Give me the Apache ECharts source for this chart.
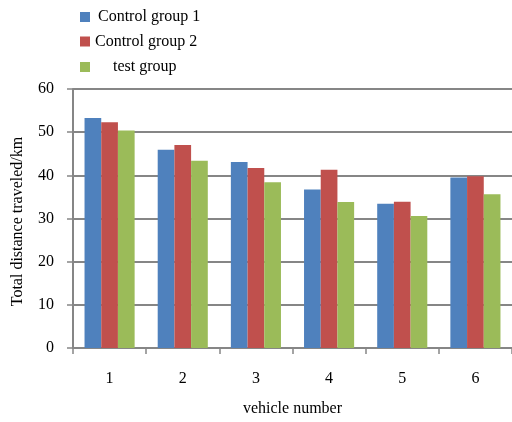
<!DOCTYPE html>
<html>
<head>
<meta charset="utf-8">
<script src="https://cdn.jsdelivr.net/npm/echarts@6/dist/echarts.min.js"></script>
<style>
html,body{margin:0;padding:0;background:#fff;}
#chart{width:512px;height:422px;}
</style>
</head>
<body>
<div id="chart"></div>
<script>
// Total distance traveled per vehicle, by group
const vehicles = ['1', '2', '3', '4', '5', '6'];
const control1 = [53.3, 45.9, 43.1, 36.7, 33.4, 39.5];
const control2 = [52.3, 47.0, 41.7, 41.3, 33.9, 39.8];
const testGroup = [50.4, 43.4, 38.4, 33.8, 30.6, 35.6];
const yTicks = [0, 10, 20, 30, 40, 50, 60];

const FONT = '"Liberation Serif", "Times New Roman", serif';
const seriesNames = ['Control group 1', 'Control group 2', 'test group'];
const colors = ['#4F81BD', '#C0504D', '#9BBB59'];
const legendTop = [9, 33.5, 59];
const legendTextPad = [3, 0, 18];

const chart = echarts.init(document.getElementById('chart'));
chart.setOption({
  animation: false,
  textStyle: {fontFamily: FONT},
  legend: seriesNames.map((n, i) => ({
    data: [n],
    left: 80,
    top: legendTop[i],
    icon: 'rect',
    itemWidth: 10,
    itemHeight: 10,
    itemGap: 0,
    padding: 0,
    selectedMode: false,
    textStyle: {fontFamily: FONT, fontSize: 16, color: '#000', padding: [0, 0, 0, legendTextPad[i]]}
  })),
  grid: {left: 73, right: -5, top: 89, bottom: 69},
  xAxis: {
    type: 'category',
    data: vehicles,
    name: 'vehicle number',
    nameLocation: 'middle',
    nameGap: 53,
    nameTextStyle: {fontFamily: FONT, fontSize: 16, color: '#000'},
    axisLine: {lineStyle: {color: '#868686', width: 2}},
    axisTick: {show: true, length: 6, lineStyle: {color: '#868686', width: 1.5}},
    axisLabel: {fontFamily: FONT, fontSize: 16, color: '#000', margin: 23}
  },
  yAxis: {
    type: 'value',
    min: yTicks[0],
    max: yTicks[yTicks.length - 1],
    interval: 10,
    name: 'Total distance traveled/km',
    nameLocation: 'middle',
    nameGap: 47,
    nameTextStyle: {fontFamily: FONT, fontSize: 16, color: '#000', padding: [0, 6, 0, 0]},
    axisLine: {show: true, lineStyle: {color: '#868686', width: 2}},
    axisTick: {show: true, length: 6, lineStyle: {color: '#868686', width: 1.5}},
    axisLabel: {fontFamily: FONT, fontSize: 16, color: '#000', margin: 19},
    splitLine: {lineStyle: {color: '#868686', width: 2}}
  },
  series: [control1, control2, testGroup].map((d, i) => ({
    name: seriesNames[i],
    type: 'bar',
    data: d,
    barWidth: 16.7,
    barGap: '0%',
    itemStyle: {color: colors[i]}
  }))
});
</script>
</body>
</html>
